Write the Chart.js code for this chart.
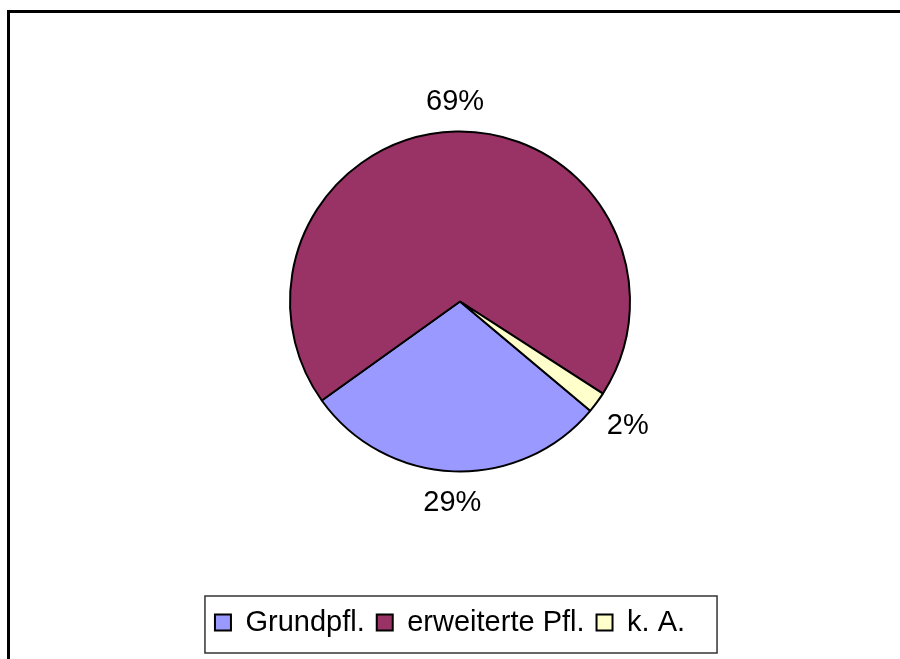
<!DOCTYPE html>
<html>
<head>
<meta charset="utf-8">
<script src="https://cdn.jsdelivr.net/npm/chart.js@4/dist/chart.umd.min.js"></script>
<style>
  html, body { margin: 0; padding: 0; background: #fff; }
  #wrap { position: relative; width: 900px; height: 659px; overflow: hidden; }
  #frame {
    position: absolute; left: 7px; top: 10px; width: 1000px; height: 1000px;
    border-top: 3px solid #000; border-left: 3px solid #000; pointer-events: none;
  }
</style>
</head>
<body>
<div id="wrap">
  <canvas id="pie" width="900" height="659"></canvas>
  <div id="frame"></div>
</div>
<script>
const categories = ["Grundpfl.", "erweiterte Pfl.", "k. A."];
const shares = [29, 69, 2];
const sliceColors = ["#9999FF", "#993366", "#FFFFCC"];

const FONT = "'Liberation Sans', Arial, sans-serif";

// Prozentwerte außen an die Segmente schreiben (wie im Excel-Diagramm)
const outsideLabels = {
  id: "outsideLabels",
  afterDatasetsDraw(chart) {
    const { ctx } = chart;
    const meta = chart.getDatasetMeta(0);
    const total = shares.reduce((a, b) => a + b, 0);
    ctx.save();
    ctx.font = `29px ${FONT}`;
    ctx.fillStyle = "#000";
    ctx.textAlign = "center";
    ctx.textBaseline = "middle";
    meta.data.forEach((arc, i) => {
      const { x, y, startAngle, endAngle, outerRadius } = arc.getProps(
        ["x", "y", "startAngle", "endAngle", "outerRadius"], true);
      const mid = (startAngle + endAngle) / 2;
      const txt = Math.round(shares[i] / total * 100) + "%";
      const w = ctx.measureText(txt).width;
      const d = outerRadius + 30 + 0.25 * w * Math.abs(Math.cos(mid));
      ctx.fillText(txt, x + Math.cos(mid) * d, y + Math.sin(mid) * d + 1);
    });
    ctx.restore();
  }
};

// Legende etwas nach links schieben und einrahmen
const legendFrame = {
  id: "legendFrame",
  afterLayout(chart) {
    const lg = chart.legend;
    lg.left -= 10;
    lg.right -= 10;
  },
  afterDraw(chart) {
    const lg = chart.legend;
    const hb = lg.legendHitBoxes;
    if (!hb || !hb.length) return;
    const last = hb[hb.length - 1];
    const { ctx } = chart;
    ctx.save();
    ctx.strokeStyle = "#333";
    ctx.lineWidth = 1.5;
    const left = hb[0].left - 10;
    const right = last.left + last.width + 32;
    const top = hb[0].top - 12;
    const bottom = hb[0].top + hb[0].height + 16;
    ctx.strokeRect(left, top, right - left, bottom - top);
    ctx.restore();
  }
};

new Chart(document.getElementById("pie"), {
  type: "pie",
  data: {
    labels: categories,
    datasets: [{
      data: shares,
      backgroundColor: sliceColors,
      borderColor: "#000",
      borderWidth: 2,
      radius: 170
    }]
  },
  options: {
    responsive: false,
    animation: false,
    events: [],
    rotation: 130,
    layout: { padding: { top: 7, bottom: 12, left: 20, right: 0 } },
    plugins: {
      tooltip: { enabled: false },
      legend: {
        position: "bottom",
        labels: {
          boxWidth: 16,
          boxHeight: 16,
          padding: 12,
          color: "#000",
          font: { family: FONT, size: 29 }
        }
      }
    }
  },
  plugins: [outsideLabels, legendFrame]
});
</script>
</body>
</html>
